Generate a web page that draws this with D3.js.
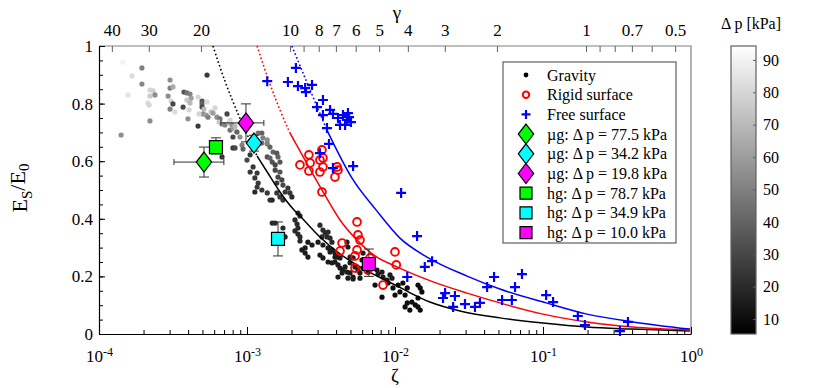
<!DOCTYPE html>
<html>
<head>
<meta charset="utf-8">
<script src="https://cdnjs.cloudflare.com/ajax/libs/d3/7.8.5/d3.min.js"></script>
<style>
body{margin:0;background:#fff;}
svg{display:block;font-family:"Liberation Serif","Times New Roman",serif;}
svg text{font-family:"Liberation Serif","Times New Roman",serif;}
</style>
</head>
<body>
<div id="chart"></div>
<script>
// gravity runs: zeta, E/E0, delta p [kPa]
var gravZeta=[1.45e-4,1.95e-4,1.67e-4,1.95e-4,1.57e-4,2.21e-4,2.32e-4,2.21e-4,2.39e-4,2.14e-4,
	2.18e-4,2.21e-4,1.41e-4,3.02e-4,3.02e-4,3.16e-4,2.93e-4,3.07e-4,3.16e-4,3.02e-4,
	3.26e-4,3.75e-4,3.93e-4,4.12e-4,4.19e-4,3.93e-4,4.12e-4,3.70e-4,4.06e-4,3.99e-4,
	4.67e-4,4.97e-4,4.97e-4,5.37e-4,5.37e-4,4.97e-4,5.12e-4,5.04e-4,4.74e-4,5.29e-4,
	5.45e-4,5.71e-4,6.08e-4,5.89e-4,6.27e-4,6.57e-4,7.33e-4,4.67e-4,6.47e-4,6.78e-4,
	7.10e-4,7.56e-4,7.92e-4,7.68e-4,8.04e-4,8.43e-4,8.04e-4,8.04e-4,6.78e-4,7.68e-4,
	8.30e-4,8.56e-4,8.97e-4,8.30e-4,9.25e-4,9.40e-4,1.19e-3,1.26e-3,1.28e-3,1.37e-3,
	1.26e-3,1.37e-3,1.43e-3,1.05e-3,1.00e-3,1.10e-3,1.17e-3,1.05e-3,1.13e-3,1.19e-3,
	1.17e-3,1.26e-3,1.37e-3,1.43e-3,1.37e-3,1.43e-3,1.48e-3,1.55e-3,1.50e-3,1.59e-3,
	1.62e-3,1.67e-3,1.55e-3,1.67e-3,1.62e-3,1.72e-3,1.59e-3,1.75e-3,1.89e-3,1.81e-3,
	1.95e-3,2.01e-3,1.67e-3,1.75e-3,1.13e-3,1.48e-3,1.59e-3,1.48e-3,1.55e-3,1.75e-3,
	1.81e-3,2.11e-3,2.18e-3,2.21e-3,2.11e-3,2.21e-3,2.28e-3,2.28e-3,2.21e-3,2.28e-3,
	2.58e-3,2.75e-3,2.35e-3,2.47e-3,2.58e-3,2.47e-3,3.11e-3,3.26e-3,3.37e-3,3.53e-3,
	3.47e-3,3.64e-3,3.75e-3,3.21e-3,3.02e-3,3.26e-3,3.53e-3,3.64e-3,3.11e-3,3.26e-3,
	3.53e-3,3.75e-3,3.93e-3,4.12e-3,4.25e-3,4.45e-3,4.12e-3,4.39e-3,4.74e-3,4.97e-3,
	5.21e-3,4.60e-3,3.93e-3,4.06e-3,4.25e-3,3.75e-3,3.93e-3,4.74e-3,4.81e-3,4.97e-3,
	5.21e-3,4.97e-3,5.37e-3,5.62e-3,5.80e-3,4.81e-3,5.21e-3,5.80e-3,6.08e-3,5.98e-3,
	6.08e-3,6.57e-3,7.10e-3,7.56e-3,7.68e-3,8.17e-3,8.30e-3,8.83e-3,9.25e-3,9.54e-3,
	7.33e-3,8.17e-3,8.97e-3,9.69e-3,1.05e-2,1.08e-2,1.00e-2,1.17e-2,1.21e-2,1.30e-2,
	1.37e-2,1.43e-2,1.48e-2,1.26e-2,1.17e-2,1.43e-2,1.48e-2,1.52e-2,1.43e-2,1.13e-2,
	1.21e-2];
var gravE=[.944,.924,.896,.868,.830,.847,.844,.826,.830,.802,
	.795,.740,.691,.882,.854,.858,.826,.809,.799,.781,
	.771,.840,.837,.833,.819,.8125,.802,.788,.778,.747,
	.823,.809,.799,.899,.806,.788,.781,.764,.764,.760,
	.753,.771,.785,.767,.753,.747,.764,.722,.736,.729,
	.726,.733,.726,.708,.715,.705,.684,.646,.615,.743,
	.722,.701,.684,.646,.656,.642,.698,.698,.681,.674,
	.663,.660,.649,.622,.604,.580,.559,.5625,.542,.524,
	.510,.5,.490,.465,.615,.611,.597,.587,.632,.628,
	.615,.597,.569,.5625,.545,.535,.524,.517,.507,.493,
	.490,.476,.476,.465,.493,.465,.490,.385,.385,.368,
	.337,.396,.382,.368,.358,.347,.337,.323,.420,.410,
	.319,.309,.292,.281,.267,.299,.378,.361,.351,.354,
	.337,.333,.319,.337,.319,.309,.299,.285,.274,.264,
	.25,.247,.25,.240,.229,.222,.198,.212,.215,.212,
	.198,.233,.281,.267,.264,.292,.267,.319,.302,.267,
	.264,.247,.233,.222,.212,.194,.191,.194,.281,.257,
	.229,.215,.233,.222,.208,.215,.198,.1875,.205,.194,
	.170,.128,.177,.160,.170,.146,.135,.135,.108,.111,
	.101,.094,.083,.083,.094,.170,.160,.146,.125,.177,
	.160];
var gravDp=[90,50,82,52,85,80,78,76,55,82,
	80,55,55,55,50,65,55,80,30,50,
	82,35,45,50,60,75,70,30,80,55,
	80,35,40,25,82,30,70,55,80,60,
	50,75,80,60,55,45,30,25,75,60,
	50,70,55,45,60,75,30,25,25,80,
	70,40,55,30,50,40,45,40,50,55,
	45,50,40,25,30,25,25,25,25,25,
	25,25,25,25,35,40,35,30,40,35,
	40,35,30,35,30,30,25,30,25,25,
	25,20,25,25,20,20,25,20,20,20,
	20,20,20,20,20,20,20,20,20,20,
	15,15,15,15,15,15,20,20,20,20,
	20,20,20,20,15,15,15,15,15,15,
	15,15,15,15,15,15,15,15,15,15,
	15,15,15,15,15,15,15,15,15,15,
	15,15,15,15,15,15,15,15,15,15,
	15,15,15,15,15,15,15,15,15,15,
	10,10,10,10,10,10,10,10,10,10,
	10,10,10,10,10,10,10,10,10,10,
	10];

// rigid surface (red circles)
var rigidZeta=[2.28e-3,2.62e-3,2.67e-3,2.62e-3,3.11e-3,3.26e-3,3.11e-3,3.21e-3,3.26e-3,4.06e-3,
	4.12e-3,3.93e-3,3.21e-3,5.54e-3,5.62e-3,5.80e-3,4.39e-3,4.25e-3,5.54e-3,5.37e-3,
	5.37e-3,6.78e-3,6.57e-3,8.30e-3,1.00e-2,1.02e-2];
var rigidE=[.587,.622,.594,.566,.604,.580,.5625,.639,.611,.580,
	.569,.545,.493,.389,.344,.326,.316,.288,.292,.271,
	.229,.264,.222,.170,.285,.240];

// free surface (blue crosses)
var freeZeta=[1.37e-3,2.14e-3,1.89e-3,2.21e-3,2.47e-3,2.75e-3,2.50e-3,2.97e-3,3.26e-3,3.26e-3,
	3.64e-3,3.81e-3,4.12e-3,4.45e-3,4.81e-3,4.89e-3,5.04e-3,4.74e-3,4.25e-3,4.60e-3,
	3.47e-3,3.58e-3,3.11e-3,3.81e-3,5.21e-3,1.10e-2,1.41e-2,1.59e-2,1.78e-2,1.21e-2,
	2.18e-2,2.11e-2,2.54e-2,2.47e-2,2.97e-2,3.47e-2,3.75e-2,4.19e-2,4.67e-2,6.47e-2,
	7.21e-2,5.29e-2,6.16e-2,1.05e-1,1.17e-1,1.72e-1,1.92e-1,3.31e-1,3.75e-1];
var freeE=[.878,.924,.875,.861,.854,.865,.840,.788,.8125,.760,
	.778,.764,.75,.760,.767,.753,.736,.743,.726,.726,
	.715,.660,.628,.576,.583,.490,.340,.233,.253,.198,
	.142,.125,.132,.094,.104,.094,.108,.163,.198,.163,
	.208,.118,.118,.135,.111,.0625,.031,.010,.042];

// fitted curves: dotted (extrapolated) part and solid part
var blackDotZeta=[5.89e-4,7.10e-4,8.70e-4,1.05e-3,1.17e-3];
var blackDotE=[1.0,.878,.764,.670,.618];
var blackZeta=[1.17e-3,1.37e-3,1.67e-3,2.05e-3,2.28e-3,3.11e-3,4.25e-3,5.80e-3,1.03e-2,1.72e-2,2.75e-2,5.12e-2,.1,.198,.405,.984];
var blackE=[.618,.5625,.493,.434,.410,.337,.278,.233,.167,.111,.080,.056,.038,.024,.017,.010];
var redDotZeta=[1.17e-3,1.43e-3,1.67e-3,1.95e-3];
var redDotE=[1.0,.868,.778,.698];
var redZeta=[1.95e-3,3.21e-3,4.25e-3,5.54e-3,7.33e-3,1.03e-2,1.81e-2,3.07e-2,5.11e-2,.1,.198,.405,.984];
var redE=[.698,.5,.396,.326,.271,.233,.181,.142,.108,.069,.042,.024,.014];
var blueDotZeta=[2.01e-3,2.67e-3,3.47e-3];
var blueDotE=[1.0,.847,.708];
var blueZeta=[3.47e-3,5.11e-3,7.44e-3,1.08e-2,1.645e-2,3.07e-2,5.11e-2,.105,.198,.405,.984];
var blueE=[.708,.542,.431,.333,.267,.201,.156,.108,.069,.042,.017];

// microgravity (diamonds) and hypergravity (squares) runs
var ugZeta=[5.12e-4,1.115e-3,9.84e-4];
var ugE=[.597,.663,.733];
var ugZetaLo=[3.21e-4,1.06e-3,6.66e-4];
var ugZetaHi=[6.98e-4,1.17e-3,1.30e-3];
var ugELo=[.545,.635,.667];
var ugEHi=[.649,.690,.799];
var ugDp=["77.5","34.2","19.8"];
var hgZeta=[6.17e-4,1.62e-3,6.66e-3];
var hgE=[.649,.330,.243];
var hgELo=[.625,.271,.200];
var hgEHi=[.681,.389,.295];
var hgDp=["78.7","34.9","10.0"];
var runColors=["#00ff00","#00ffff","#ff00ff"];

// axes ticks
var yTicks=[0,.2,.4,.6,.8,1];
var yMinor=d3.range(0,1.001,.05);
var gammaTicks=[40,30,20,10,9,8,7,6,5,4,3,2,1,.9,.8,.7,.6,.5];
var gammaLabels=[40,30,20,10,8,7,6,5,4,3,2,1,.7,.5];
var gammaRange=[44.2,.442];
var dpRange=[5.4,94.3];
var dpTicks=[10,20,30,40,50,60,70,80,90];

var width=830,height=388;
var padL=99,padR=691,padT=46,padB=334;
var cbx=731,cbw=25;
var serif='"Liberation Serif","Times New Roman",serif';

var svg=d3.select("#chart").append("svg")
		.attr("width",width)
		.attr("height",height);

var x=d3.scaleLog().domain([1e-4,1]).range([padL,padR]);
var y=d3.scaleLinear().domain([0,1]).range([padB,padT]);
var gx=d3.scaleLog().domain(gammaRange).range([padL,padR]);
var cscale=d3.scaleLinear().domain(dpRange).range(["#000000","#ffffff"]).clamp(true);
var cy=d3.scaleLinear().domain(dpRange).range([padB,padT]);

drawaxes();
drawdata();
drawlegend();
drawcolorbar();
svg.selectAll("g").attr("font-family",null);
svg.selectAll("text").style("font-family",serif);

function drawaxes(){
	// frame (top + right in gray)
	svg.append("path")
		.attr("d","M"+padL+","+padT+"H"+padR+"V"+padB)
		.style("fill","none").style("stroke","#808080").style("stroke-width",1.2);

	var xMinor=[];
	for(var k=-4;k<0;k++){for(var m=2;m<10;m++){xMinor.push(m*Math.pow(10,k));}}
	svg.append("g")
		.attr("transform","translate(0,"+padB+")")
		.call(d3.axisBottom(x).tickValues(xMinor).tickFormat("").tickSizeInner(-4).tickSizeOuter(0))
		.call(function(a){a.select(".domain").remove();});
	var xa=svg.append("g")
		.attr("class","x axis")
		.attr("transform","translate(0,"+padB+")")
		.call(d3.axisBottom(x).tickValues([1e-4,1e-3,1e-2,1e-1,1]).tickSizeInner(-7).tickSizeOuter(0).tickPadding(16));
	xa.selectAll(".tick text").text(null).style("font-size","17px").each(function(d){
		var t=d3.select(this);
		t.append("tspan").text("10");
		t.append("tspan").attr("dy","-0.5em").style("font-size","12px").text(Math.round(Math.log10(d)));
	});

	svg.append("g")
		.attr("transform","translate("+padL+",0)")
		.call(d3.axisLeft(y).tickValues(yMinor).tickFormat("").tickSizeInner(-4).tickSizeOuter(0))
		.call(function(a){a.select(".domain").remove();});
	var ya=svg.append("g")
		.attr("class","y axis")
		.attr("transform","translate("+padL+",0)")
		.call(d3.axisLeft(y).tickValues(yTicks).tickSizeInner(-6).tickSizeOuter(0).tickPadding(6)
			.tickFormat(function(d){return (d==0||d==1)?String(d):d.toFixed(1);}));
	ya.selectAll(".tick text").style("font-size","17px");

	var ga=svg.append("g")
		.attr("transform","translate(0,"+padT+")")
		.call(d3.axisTop(gx).tickValues(gammaTicks).tickSizeInner(-6).tickSizeOuter(0).tickPadding(10)
			.tickFormat(function(d){return gammaLabels.indexOf(d)>=0?String(d):"";}));
	ga.select(".domain").remove();
	ga.selectAll(".tick line").style("stroke","#606060");
	ga.selectAll(".tick text").style("font-size","17px");

	svg.selectAll(".axis .domain").style("stroke","#000").style("stroke-width",1.2);
	svg.selectAll(".tick text").attr("fill","#000");

	svg.append("text").attr("x",397).attr("y",19).attr("text-anchor","middle")
		.style("font-size","19px").text("γ");
	svg.append("text").attr("x",395).attr("y",382).attr("text-anchor","middle")
		.style("font-size","19px").text("ζ");
	var yl=svg.append("text")
		.attr("transform","translate(27,188) rotate(-90)")
		.attr("text-anchor","middle")
		.style("font-size","22px");
	yl.append("tspan").text("E");
	yl.append("tspan").attr("dy","0.3em").style("font-size","15px").text("S");
	yl.append("tspan").attr("dy","-0.3em").text("/E");
	yl.append("tspan").attr("dy","0.3em").style("font-size","15px").text("0");
}

function drawdata(){
	var plot=svg.append("g");
	var gravIdx=d3.range(gravZeta.length);
	plot.append("g").selectAll("circle")
		.data(gravIdx).enter().append("circle")
		.attr("cx",function(i){return x(gravZeta[i]);})
		.attr("cy",function(i){return y(gravE[i]);})
		.attr("r",2.6)
		.attr("fill",function(i){return cscale(gravDp[i]);});

	var line=d3.line()
		.curve(d3.curveMonotoneX)
		.x(function(d){return x(d[0]);})
		.y(function(d){return y(d[1]);});
	var curves=[
		[blackDotZeta,blackDotE,"#000",true],[blackZeta,blackE,"#000",false],
		[redDotZeta,redDotE,"#ff0000",true],[redZeta,redE,"#ff0000",false],
		[blueDotZeta,blueDotE,"#0000ff",true],[blueZeta,blueE,"#0000ff",false]
	];
	curves.forEach(function(cv){
		plot.append("path")
			.datum(d3.zip(cv[0],cv[1]))
			.attr("d",line)
			.style("fill","none")
			.style("stroke",cv[2])
			.style("stroke-width",cv[3]?1.6:1.5)
			.style("stroke-dasharray",cv[3]?"1.6,2.4":null);
	});

	plot.append("g").selectAll("circle")
		.data(d3.range(rigidZeta.length)).enter().append("circle")
		.attr("cx",function(i){return x(rigidZeta[i]);})
		.attr("cy",function(i){return y(rigidE[i]);})
		.attr("r",3.9)
		.style("fill","none").style("stroke","#ff0000").style("stroke-width",1.9);

	plot.append("g").selectAll("path")
		.data(d3.range(freeZeta.length)).enter().append("path")
		.attr("transform",function(i){return "translate("+x(freeZeta[i])+","+y(freeE[i])+")";})
		.attr("d","M-5,0H5M0,-5V5")
		.style("fill","none").style("stroke","#0000ff").style("stroke-width",2.2);

	// error bars
	var eb=plot.append("g").style("stroke","#303030").style("stroke-width",1).style("fill","none");
	for(var i=0;i<3;i++){
		var px=x(ugZeta[i]),py=y(ugE[i]);
		eb.append("path").attr("d","M"+x(ugZetaLo[i])+","+py+"H"+x(ugZetaHi[i])
			+"M"+x(ugZetaLo[i])+","+(py-3)+"v6M"+x(ugZetaHi[i])+","+(py-3)+"v6");
		eb.append("path").attr("d","M"+px+","+y(ugELo[i])+"V"+y(ugEHi[i])
			+"M"+(px-5)+","+y(ugELo[i])+"h10M"+(px-5)+","+y(ugEHi[i])+"h10");
		var hx=x(hgZeta[i]);
		eb.append("path").attr("d","M"+hx+","+y(hgELo[i])+"V"+y(hgEHi[i])
			+"M"+(hx-5)+","+y(hgELo[i])+"h10M"+(hx-5)+","+y(hgEHi[i])+"h10");
	}
	for(var j=0;j<3;j++){
		plot.append("path")
			.attr("transform","translate("+x(hgZeta[j])+","+y(hgE[j])+")")
			.attr("d","M-6.5,-6.5h13v13h-13Z")
			.style("fill",runColors[j]).style("stroke","#000").style("stroke-width",1.2);
	}
	[0,2,1].forEach(function(j){
		plot.append("path")
			.attr("transform","translate("+x(ugZeta[j])+","+y(ugE[j])+")")
			.attr("d","M0,-10L7.7,0L0,10L-7.7,0Z")
			.style("fill",runColors[j]).style("stroke","#000").style("stroke-width",1.2);
	});
}

function drawlegend(){
	var lg=svg.append("g").attr("transform","translate(503,62)");
	lg.append("rect").attr("width",173).attr("height",181)
		.style("fill","#fff").style("stroke","#606060").style("stroke-width",1.2);
	var names=["Gravity","Rigid surface","Free surface"];
	ugDp.forEach(function(d){names.push("\u00b5g: \u0394 p = "+d+" kPa");});
	hgDp.forEach(function(d){names.push("hg: \u0394 p = "+d+" kPa");});
	var rows=lg.selectAll("g.row").data(names).enter().append("g")
		.attr("class","row")
		.attr("transform",function(d,i){return "translate(0,"+(13+i*19.7)+")";});
	rows.append("text").attr("x",44).attr("y",5.5).style("font-size","16px").text(function(d){return d;});
	rows.each(function(d,i){
		var r=d3.select(this);
		if(i==0){r.append("circle").attr("cx",23).attr("r",2.4).attr("fill","#000");}
		else if(i==1){r.append("circle").attr("cx",23).attr("r",3.2).style("fill","none").style("stroke","#ff0000").style("stroke-width",2);}
		else if(i==2){r.append("path").attr("transform","translate(23,0)").attr("d","M-4.5,0H4.5M0,-4.5V4.5").style("stroke","#0000ff").style("stroke-width",2.2);}
		else if(i<6){r.append("path").attr("transform","translate(23,0)").attr("d","M0,-10L7.7,0L0,10L-7.7,0Z")
			.style("fill",runColors[i-3]).style("stroke","#000").style("stroke-width",1.2);}
		else{r.append("path").attr("transform","translate(23,0)").attr("d","M-6,-6h12v12h-12Z")
			.style("fill",runColors[i-6]).style("stroke","#000").style("stroke-width",1.2);}
	});
}

function drawcolorbar(){
	var defs=svg.append("defs");
	var grad=defs.append("linearGradient").attr("id","cbgrad")
		.attr("x1",0).attr("y1",1).attr("x2",0).attr("y2",0);
	grad.append("stop").attr("offset","0%").attr("stop-color",cscale(dpRange[0]));
	grad.append("stop").attr("offset","100%").attr("stop-color",cscale(dpRange[1]));
	svg.append("rect").attr("x",cbx).attr("y",padT).attr("width",cbw).attr("height",padB-padT)
		.style("fill","url(#cbgrad)").style("stroke","#606060").style("stroke-width",1.2);
	var ca=svg.append("g")
		.attr("transform","translate("+(cbx+cbw)+",0)")
		.call(d3.axisRight(cy).tickValues(dpTicks).tickSizeInner(-3).tickSizeOuter(0).tickPadding(7));
	ca.select(".domain").remove();
	ca.selectAll(".tick line").style("stroke","#606060");
	ca.selectAll(".tick text").style("font-size","16px").attr("fill","#000");
	svg.append("text").attr("x",751).attr("y",29).attr("text-anchor","middle")
		.style("font-size","16px").text("\u0394 p [kPa]");
}
</script>
</body>
</html>
